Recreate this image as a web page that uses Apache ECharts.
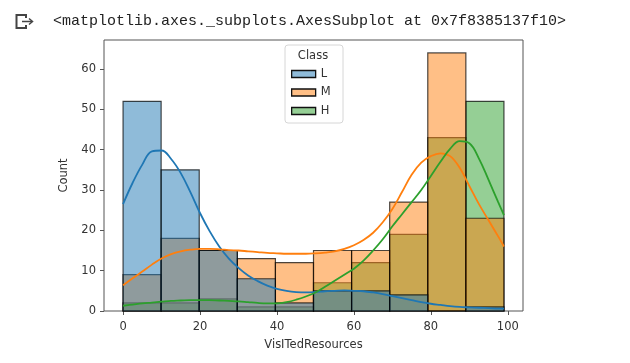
<!DOCTYPE html>
<html>
<head>
<meta charset="utf-8">
<script src="https://cdn.jsdelivr.net/npm/echarts@6/dist/echarts.min.js"></script>
<style>
  html, body { margin: 0; padding: 0; background: #fff; }
  #chart { width: 630px; height: 363px; }
</style>
</head>
<body>
<div id="chart"></div>
<script>
// ---- data ----
const classes = ['L', 'M', 'H'];
const binEdges = [0, 9.9, 19.8, 29.7, 39.6, 49.5, 59.4, 69.3, 79.2, 89.1, 99];
const countL = [52, 35, 15, 8, 2, 5, 5, 4, 0, 1];
const countM = [9, 18, 15, 13, 12, 15, 15, 27, 64, 23];
const countH = [2, 2, 3, 1, 1, 7, 12, 19, 43, 52];

const kdeX = [0, 2.5, 5, 7.5, 10, 12.5, 15, 17.5, 20, 22.5, 25, 27.5, 30, 32.5, 35, 37.5, 40, 42.5, 45, 47.5, 50,
              52.5, 55, 57.5, 60, 62.5, 65, 67.5, 70, 72.5, 75, 77.5, 80, 82.5, 85, 87.5, 90, 92.5, 95, 97.5, 99];
const kdeL = [26.5, 31.8, 36.3, 39.6, 39.8, 37.7, 34.2, 29.5, 24.3, 19.8, 16, 13, 10.7, 8.8, 7.4, 6.3, 5.5, 5.0, 4.7, 4.6, 4.7,
              4.9, 5.0, 5.1, 5.0, 4.9, 4.6, 4.2, 3.7, 3.2, 2.7, 2.2, 1.8, 1.5, 1.2, 1.0, 0.9, 0.8, 0.7, 0.6, 0.6];
const kdeM = [6.4, 8.1, 9.8, 11.5, 13, 14.1, 14.8, 15.2, 15.4, 15.4, 15.3, 15.1, 15, 14.8, 14.6, 14.4, 14.3, 14.2, 14.2, 14.2, 14.3,
              14.5, 14.8, 15.4, 16.3, 17.6, 19.4, 22, 25.3, 29.5, 33.8, 36.8, 38.4, 39.1, 38.4, 35.5, 31, 26.5, 22.5, 18.5, 16];
const kdeH = [1.3, 1.6, 1.9, 2.1, 2.3, 2.5, 2.6, 2.7, 2.7, 2.7, 2.6, 2.5, 2.4, 2.2, 2.0, 1.9, 1.9, 2.2, 2.8, 3.6, 4.6,
              6.0, 7.5, 9.0, 10.5, 12.5, 15, 17.8, 21, 24, 27, 30, 33.5, 37, 40.2, 42.1, 41.6, 37.8, 32.5, 27, 23.8];

const xTicks = [0, 20, 40, 60, 80, 100];
const yTicks = [0, 10, 20, 30, 40, 50, 60];

const fillColors = { L: 'rgba(31,119,180,0.5)', M: 'rgba(255,127,14,0.5)', H: 'rgba(44,160,44,0.5)' };
const lineColors = { L: '#1f77b4', M: '#ff7f0e', H: '#2ca02c' };
const counts = { L: countL, M: countM, H: countH };
const kdes = { L: kdeL, M: kdeM, H: kdeH };

function binData(arr) {
  return arr.map((c, i) => [binEdges[i], binEdges[i + 1], c]);
}

function histSeries(cls) {
  return {
    name: cls,
    type: 'custom',
    z: 2,
    renderItem: function (params, api) {
      const p0 = api.coord([api.value(0), api.value(2)]);
      const p1 = api.coord([api.value(1), 0]);
      return {
        type: 'rect',
        shape: { x: p0[0], y: p0[1], width: p1[0] - p0[0], height: p1[1] - p0[1] },
        style: { fill: fillColors[cls], stroke: 'rgba(0,0,0,0.7)', lineWidth: 1.2 }
      };
    },
    encode: { x: [0, 1], y: 2 },
    itemStyle: { color: fillColors[cls] },
    data: binData(counts[cls])
  };
}

function kdeSeries(cls) {
  return {
    name: cls + ' kde',
    type: 'line',
    z: 3,
    smooth: 0.4,
    showSymbol: false,
    silent: true,
    lineStyle: { color: lineColors[cls], width: 1.8 },
    data: kdeX.map((x, i) => [x, kdes[cls][i]])
  };
}

const chart = echarts.init(document.getElementById('chart'), null, { renderer: 'canvas' });
const axisFont = 'DejaVu Sans';
chart.setOption({
  animation: false,
  backgroundColor: '#fff',
  grid: { left: 104, right: 107, top: 40, bottom: 52, show: true, borderColor: '#555', borderWidth: 1, backgroundColor: 'transparent' },
  xAxis: {
    type: 'value', min: -4.95, max: 103.95,
    name: 'VisITedResources', nameLocation: 'middle', nameGap: 28,
    nameTextStyle: { fontFamily: axisFont, fontSize: 11.5, color: '#333' },
    axisLine: { show: false, onZero: false },
    splitLine: { show: false },
    axisTick: { show: true, length: 4, lineStyle: { color: '#555' }, customValues: xTicks },
    axisLabel: { fontFamily: axisFont, fontSize: 11.5, color: '#333', margin: 10, customValues: xTicks }
  },
  yAxis: {
    type: 'value', min: 0, max: 67.2,
    name: 'Count', nameLocation: 'middle', nameGap: 34,
    nameTextStyle: { fontFamily: axisFont, fontSize: 11.5, color: '#333' },
    axisLine: { show: false, onZero: false },
    splitLine: { show: false },
    axisTick: { show: true, length: 4, lineStyle: { color: '#555' }, customValues: yTicks },
    axisLabel: { fontFamily: axisFont, fontSize: 11.5, color: '#333', margin: 8, customValues: yTicks }
  },
  legend: {
    orient: 'vertical', left: 291, top: 67, z: 10, padding: 0,
    icon: 'rect', itemWidth: 24, itemHeight: 7, itemGap: 4.5,
    textStyle: { fontFamily: axisFont, fontSize: 11.5, color: '#333', lineHeight: 14 },
    data: classes.map(c => ({ name: c, itemStyle: { color: fillColors[c], borderColor: '#111', borderWidth: 1.3 } }))
  },
  graphic: [
    { type: 'rect', z: 9, shape: { x: 285, y: 45, width: 58, height: 78, r: 3 }, style: { fill: 'rgba(255,255,255,0.8)', stroke: '#d6d6d6', lineWidth: 1 } },
    { type: 'text', z: 11, x: 313, y: 56, style: { text: 'Class', fontFamily: axisFont, fontSize: 11.5, fill: '#333', align: 'center', verticalAlign: 'middle' } },
    { type: 'text', z: 11, x: 53, y: 21, style: { text: '<matplotlib.axes._subplots.AxesSubplot at 0x7f8385137f10>', fontFamily: 'Liberation Mono', fontSize: 15, fill: '#222', verticalAlign: 'middle' } },
    { type: 'polyline', z: 11, shape: { points: [[26, 18], [26, 15], [16.5, 15], [16.5, 28], [26, 28], [26, 25]] }, style: { stroke: '#444', lineWidth: 2, fill: null } },
    { type: 'polyline', z: 11, shape: { points: [[22, 21.5], [32, 21.5]] }, style: { stroke: '#444', lineWidth: 1.5, fill: null } },
    { type: 'polyline', z: 11, shape: { points: [[29, 18.5], [32.5, 21.5], [29, 24.5]] }, style: { stroke: '#444', lineWidth: 1.5, fill: null } }
  ],
  series: [
    histSeries('H'), histSeries('M'), histSeries('L'),
    kdeSeries('L'), kdeSeries('M'), kdeSeries('H')
  ]
});
</script>
</body>
</html>
